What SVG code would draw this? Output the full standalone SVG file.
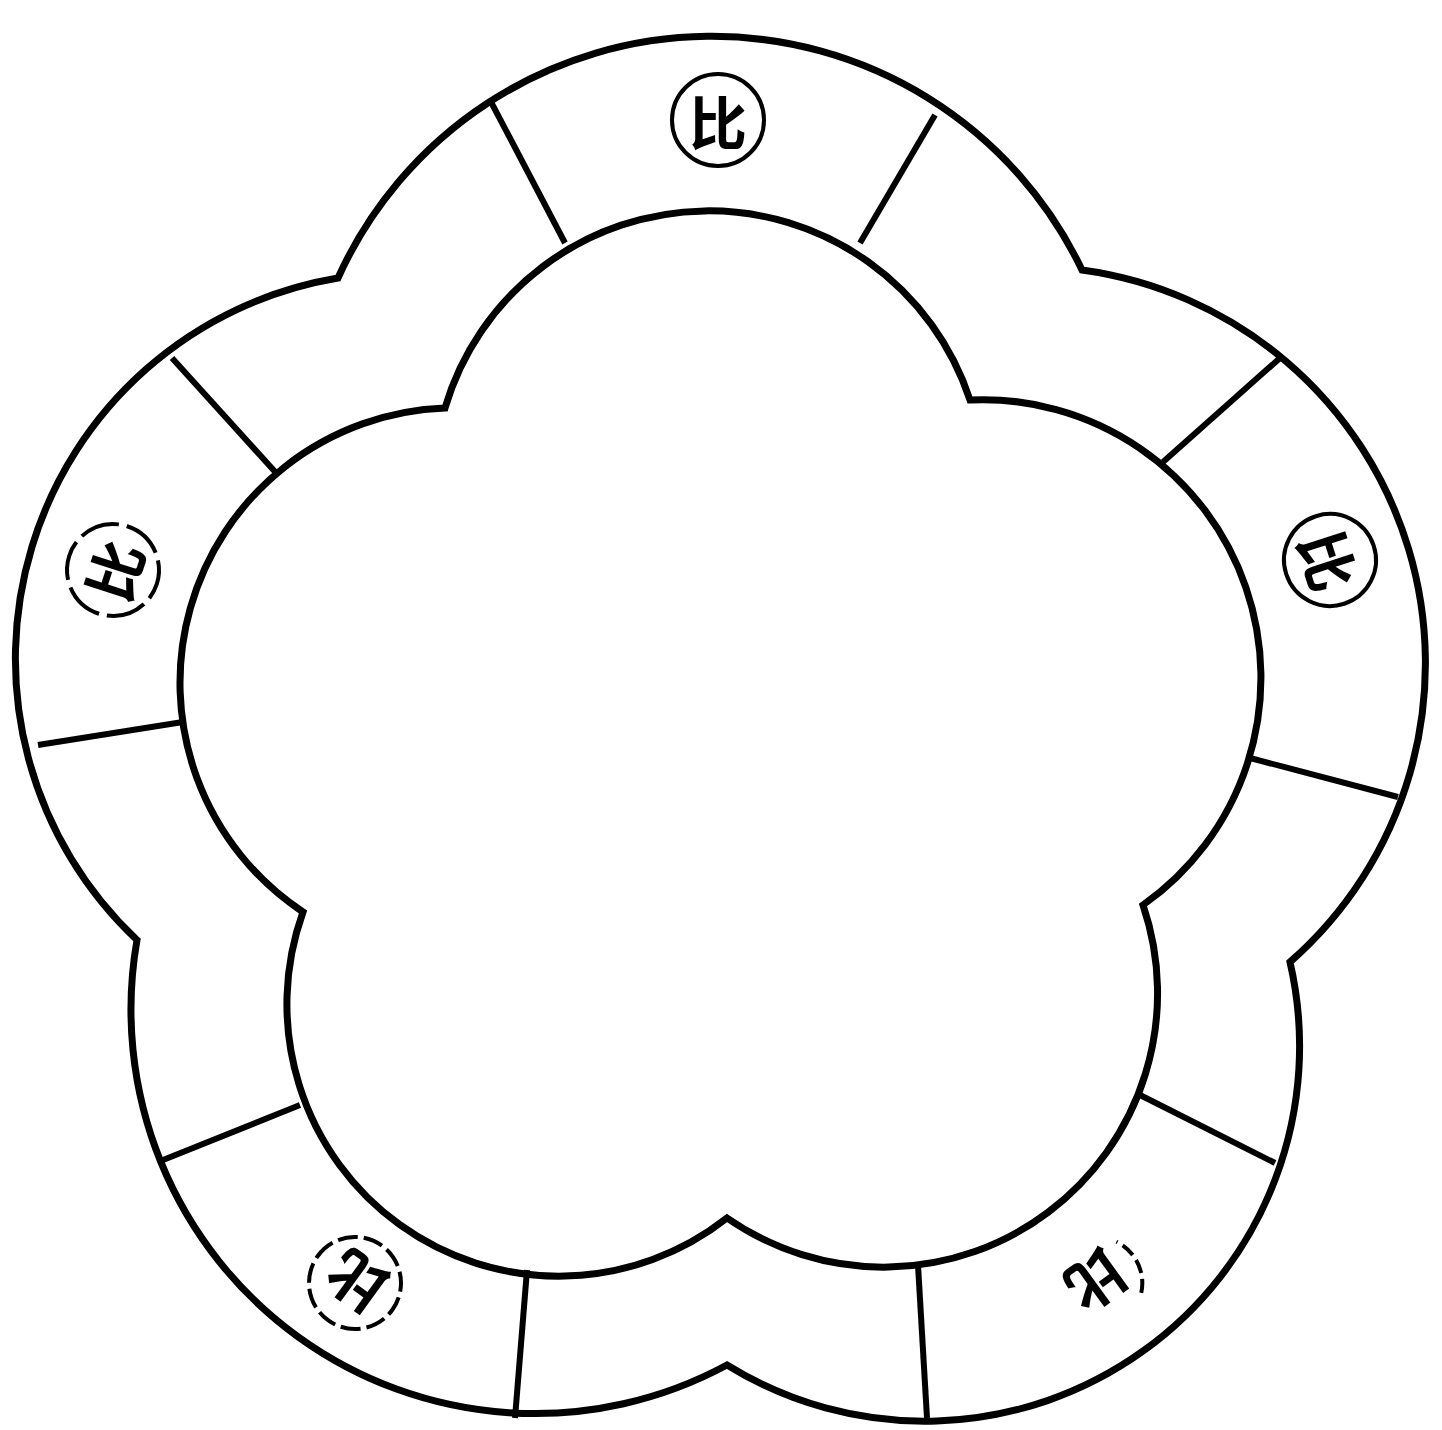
<svg xmlns="http://www.w3.org/2000/svg" width="1442" height="1430" viewBox="0 0 1442 1430">
<style>
.ln{fill:none;stroke:#000;stroke-width:7;stroke-linejoin:miter;stroke-linecap:round}
.dv{stroke:#000;stroke-width:6;stroke-linecap:butt}
.cc{fill:#fff;stroke:#000;stroke-width:4}
.lb{font-family:"Noto Sans CJK SC","Noto Sans CJK JP",sans-serif;font-size:58px;font-weight:bold;fill:#000;text-anchor:middle;dominant-baseline:central}
</style>
<rect width="1442" height="1430" fill="#fff"/>
<g id="outline">
<path class="ln" d="M 338 278 A 410 410 0 0 1 1082 270 A 397 397 0 0 1 1290 962 A 375 375 0 0 1 727 1365 A 404 404 0 0 1 137 940 A 386 386 0 0 1 338 278 Z"/>
<path class="ln" d="M 445 408 A 275 275 0 0 1 970 400 A 278 278 0 0 1 1143 905 A 274 274 0 0 1 727 1218 A 272 272 0 0 1 303 912 A 275 275 0 0 1 445 408 Z"/>
</g>
<g id="dividers">
<line class="dv" x1="490" y1="100" x2="565" y2="243"/>
<line class="dv" x1="935" y1="115" x2="860" y2="243"/>
<line class="dv" x1="1280" y1="358" x2="1163" y2="462"/>
<line class="dv" x1="1398" y1="797" x2="1250" y2="758"/>
<line class="dv" x1="1275" y1="1163" x2="1140" y2="1095"/>
<line class="dv" x1="918" y1="1265" x2="927" y2="1418"/>
<line class="dv" x1="527" y1="1270" x2="515" y2="1418"/>
<line class="dv" x1="163" y1="1160" x2="300" y2="1105"/>
<line class="dv" x1="38" y1="745" x2="183" y2="722"/>
<line class="dv" x1="172" y1="358" x2="278" y2="475"/>
</g>
<g id="label-top" transform="translate(718,120)">
<circle class="cc" r="46"/><text class="lb">比</text>
</g>
<g id="label-right" transform="translate(1330,560) rotate(72)">
<circle class="cc" r="46"/><text class="lb">比</text>
</g>
<g id="label-bottom-right" transform="translate(1097,1283) rotate(144)">
<path d="M -30 -34 A 46 46 0 0 0 -40 22" fill="none" stroke="#000" stroke-width="4" stroke-dasharray="14 6"/>
<text class="lb">比</text>
</g>
<g id="label-bottom-left" transform="translate(355,1283) rotate(216)">
<circle class="cc" r="46" stroke-dasharray="20 6"/><text class="lb">比</text>
</g>
<g id="label-left" transform="translate(113,570) rotate(288)">
<circle class="cc" r="46" stroke-dasharray="40 8"/><text class="lb">比</text>
</g>
</svg>
